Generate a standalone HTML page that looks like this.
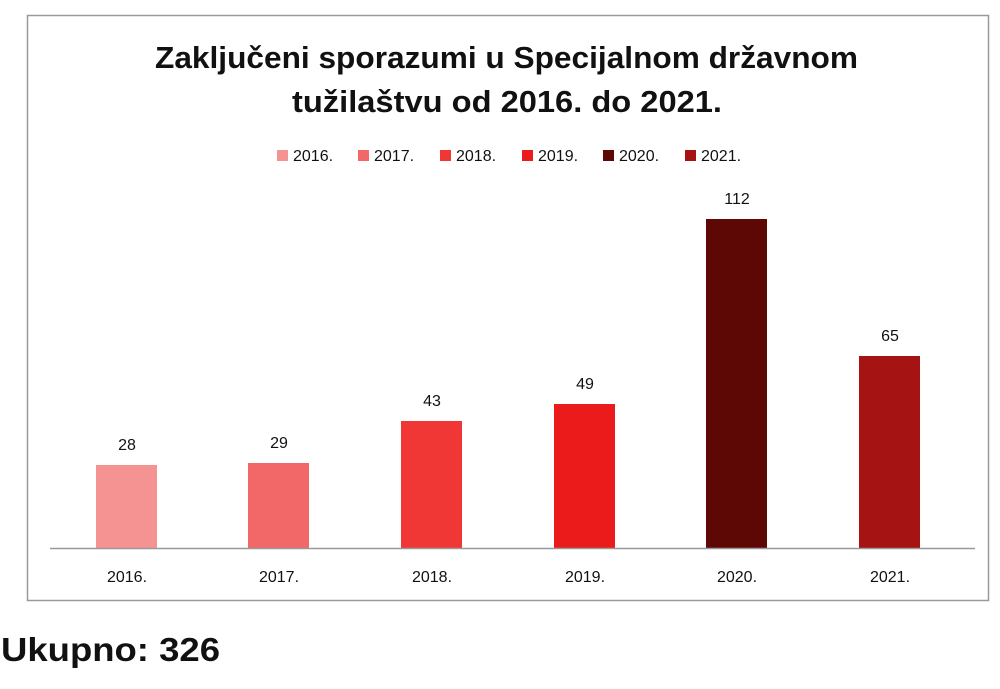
<!DOCTYPE html>
<html><head><meta charset="utf-8"><style>
body{margin:0;background:#fff;width:1000px;height:684px;overflow:hidden;font-family:"Liberation Sans",sans-serif}
</style></head><body>
<svg width="1000" height="684" xmlns="http://www.w3.org/2000/svg" font-family="Liberation Sans, sans-serif">
<rect x="27.5" y="15.5" width="961" height="585" fill="#fff" stroke="#999" stroke-width="1.5"/>
<text x="155" y="68" textLength="703" lengthAdjust="spacingAndGlyphs" font-size="31" font-weight="bold" fill="#111">Zaključeni sporazumi u Specijalnom državnom</text>
<text x="292" y="112" textLength="430" lengthAdjust="spacingAndGlyphs" font-size="31" font-weight="bold" fill="#111">tužilaštvu od 2016. do 2021.</text>
<g font-size="16" fill="#111">
<rect x="277" y="150" width="11" height="11" fill="#f59393"/><text x="293" y="161">2016.</text>
<rect x="358" y="150" width="11" height="11" fill="#f26868"/><text x="374" y="161">2017.</text>
<rect x="440" y="150" width="11" height="11" fill="#f13636"/><text x="456" y="161">2018.</text>
<rect x="522" y="150" width="11" height="11" fill="#ec1b1b"/><text x="538" y="161">2019.</text>
<rect x="603" y="150" width="11" height="11" fill="#5e0806"/><text x="619" y="161">2020.</text>
<rect x="685" y="150" width="11" height="11" fill="#a51313"/><text x="701" y="161">2021.</text>
</g>
<rect x="96" y="465" width="61" height="83" fill="#f59393"/>
<rect x="248" y="463" width="61" height="85" fill="#f26868"/>
<rect x="401" y="421" width="61" height="127" fill="#f13636"/>
<rect x="554" y="404" width="61" height="144" fill="#ec1b1b"/>
<rect x="706" y="219" width="61" height="329" fill="#5e0806"/>
<rect x="859" y="356" width="61" height="192" fill="#a51313"/>
<line x1="50" y1="548.5" x2="975" y2="548.5" stroke="#999" stroke-width="1.5"/>
<g font-size="16" fill="#111" text-anchor="middle">
<text x="127" y="450">28</text><text x="279" y="448">29</text><text x="432" y="406">43</text>
<text x="585" y="389">49</text><text x="737" y="204">112</text><text x="890" y="341">65</text>
<text x="127" y="582">2016.</text><text x="279" y="582">2017.</text><text x="432" y="582">2018.</text>
<text x="585" y="582">2019.</text><text x="737" y="582">2020.</text><text x="890" y="582">2021.</text>
</g>
<text x="1" y="661" textLength="219" lengthAdjust="spacingAndGlyphs" font-size="33" font-weight="bold" fill="#111">Ukupno: 326</text>
</svg>
</body></html>
